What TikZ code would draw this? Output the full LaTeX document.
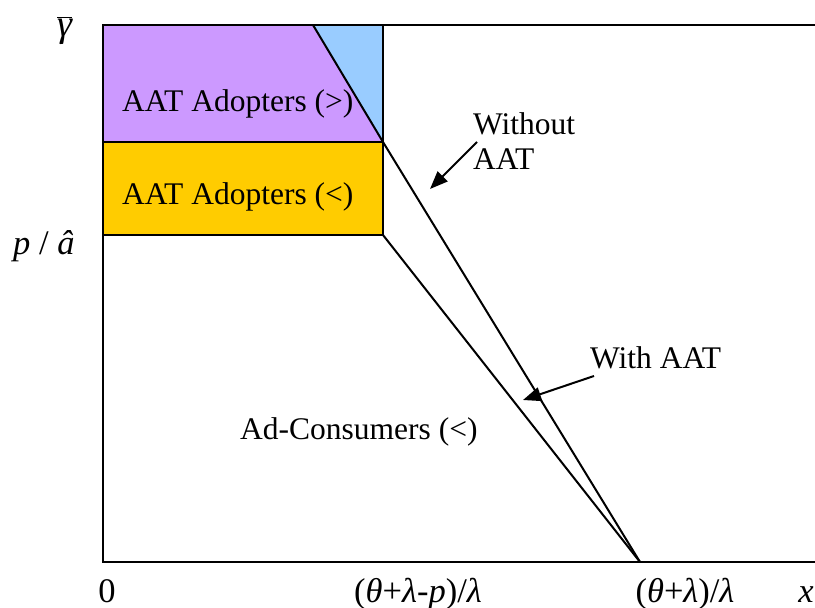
\documentclass[tikz,border=0pt]{standalone}
\usepackage{fontspec}
\setmainfont{Liberation Serif}
\usetikzlibrary{arrows.meta}
\definecolor{adoptgt}{HTML}{CC99FF}
\definecolor{adoptlt}{HTML}{FFCC00}
\definecolor{corner}{HTML}{99CCFF}
\tikzset{
  lbl/.style={anchor=base west, inner sep=0pt, font=\fontsize{31.5}{35}\selectfont},
  axlbl/.style={anchor=base, inner sep=0pt, font=\fontsize{34.5}{40}\selectfont},
  edge/.style={line width=2pt, line join=miter},
  pointer/.style={line width=2pt, -{Triangle[length=18pt,width=14pt]}},
}
\begin{document}
\begin{tikzpicture}[x=1pt,y=-1pt]
\useasboundingbox (0,0) rectangle (815,608);
% key points of the region plot
\coordinate (tl) at (103,25);
\coordinate (tr) at (815,25);
\coordinate (bl) at (103,562);
\coordinate (br) at (815,562);
\coordinate (kink) at (313,25);
\coordinate (boxtop) at (383,25);
\coordinate (boxmid) at (383,142);
\coordinate (boxlow) at (383,235);
\coordinate (midl) at (103,142);
\coordinate (lowl) at (103,235);
\coordinate (cut) at (640,562);
% shaded regions
\fill[adoptgt] (tl) -- (kink) -- (boxmid) -- (midl) -- cycle;
\fill[corner] (kink) -- (boxtop) -- (boxmid) -- cycle;
\fill[adoptlt] (midl) rectangle (boxlow);
% frame and borders
\draw[edge] (tr) -- (tl) -- (bl) -- (br);
\draw[edge] (boxtop) -- (boxlow);
\draw[edge] (midl) -- (boxmid);
\draw[edge] (lowl) -- (boxlow);
% boundary lines
\draw[edge] (kink) -- (boxmid) -- (cut);
\draw[edge] (boxlow) -- (cut);
% region labels
\node[lbl] (gt) at (122,111) {AAT Adopters (>)};
\node[lbl] (lt) at (122,204) {AAT Adopters (<)};
\node[lbl] (adc) at (240,439) {Ad-Consumers (<)};
% curve labels and pointers
\node[lbl] (wo) at (473,134) {Without};
\node[lbl] (woaat) at (473,169) {AAT};
\node[lbl] (wi) at (590,368) {With AAT};
\coordinate (wotail) at (477,142);
\coordinate (wotip) at (430,189);
\coordinate (witail) at (594,376);
\coordinate (witip) at (523,400);
\draw[pointer] (wotail) -- (wotip);
\draw[pointer] (witail) -- (witip);
% axis labels
\node[axlbl, anchor=base west, font=\fontsize{38}{40}\selectfont] (gbar) at (57,36) {$\overline{\hbox{\itshape γ}}$};
\node[axlbl, anchor=base west] (pa) at (13,254) {\itshape p\upshape\ /\ \itshape â};
\node[axlbl] (zero) at (107,602) {0};
\node[axlbl] (xa) at (418,602) {(\textit{θ}+\textit{λ}-\textit{p})/\textit{λ}};
\node[axlbl] (xb) at (685,602) {(\textit{θ}+\textit{λ})/\textit{λ}};
\node[axlbl] (xl) at (806,602) {\itshape x};
\end{tikzpicture}
\end{document}
